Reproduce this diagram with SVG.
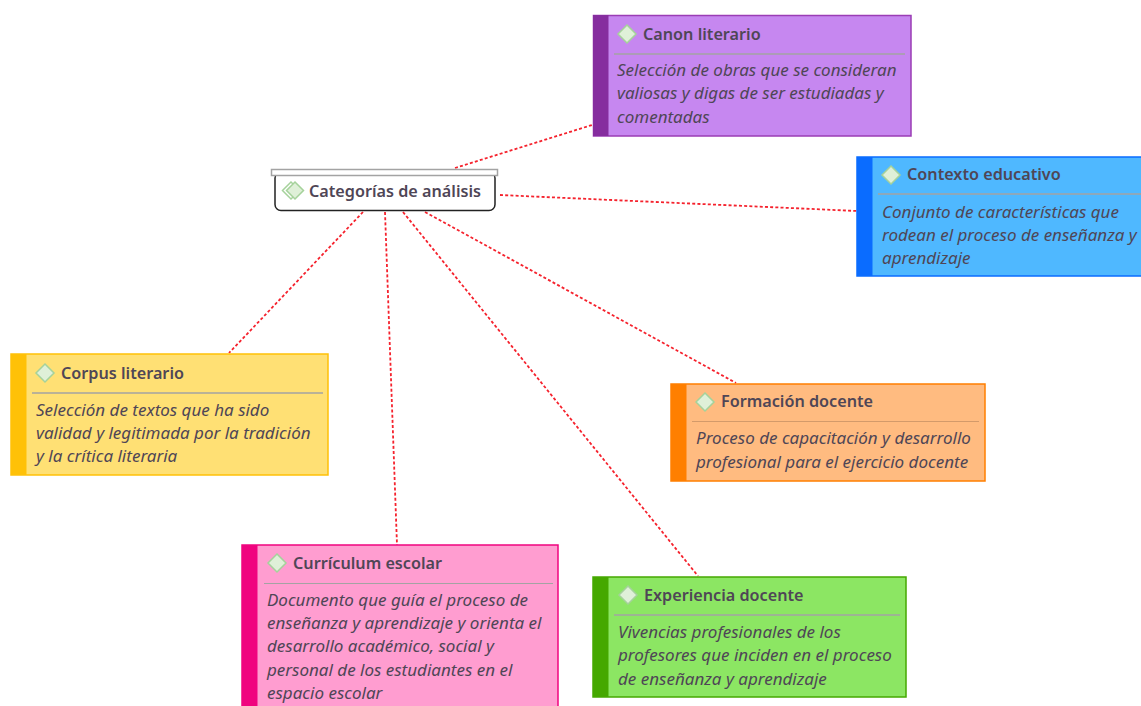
<svg xmlns="http://www.w3.org/2000/svg" width="1141" height="706" viewBox="0 0 1141 706">
<style>
text{font-family:"Noto Sans","Open Sans","Liberation Sans",sans-serif;fill:#4f4656}
.t{font-size:16.2px;font-weight:600}
.d{font-size:17px;font-style:italic}
.dia{fill:#dff0d8;stroke:#a5d29b;stroke-width:1.5}
.sep{stroke:#a3a3a3;stroke-width:1.5}
.c path{fill:none;stroke:#f5222d;stroke-width:1.8;stroke-dasharray:3 2.2}
</style>
<rect width="1141" height="706" fill="#fff"/>
<g class="c" id="connectors">
<path d="M455 168L592 125"/>
<path d="M500 195L857 211"/>
<path d="M363 212L229 353"/>
<path d="M385 212L397 545"/>
<path d="M403 212L698 576"/>
<path d="M425 212L736 383"/>
</g>
<g id="central">
<rect x="275" y="172" width="220" height="38.500" rx="6" fill="#fff" stroke="#222" stroke-width="1.500"/>
<rect x="271.500" y="169.500" width="226" height="6" fill="#fff" stroke="#a3a3a3" stroke-width="1.500"/>
<path d="M291 182l8.500 8.500-8.500 8.500-8.500-8.500z" fill="#fff" stroke="#a5d29b" stroke-width="1.500"/>
<path class="dia" d="M295 182l8.500 8.500-8.500 8.500-8.500-8.500z"/>
<text class="t" x="309" y="196.500">Categorías de análisis</text>
</g>
<g id="canon">
<rect x="593.500" y="15.500" width="317.500" height="120.500" fill="#c687f0" stroke="#9a3db5" stroke-width="1.500"/>
<rect x="593" y="15" width="15.500" height="121" fill="#862d9f"/>
<path class="dia" d="M627 25l9 9-9 9-9-9z"/>
<text class="t" x="643" y="40">Canon literario</text>
<path class="sep" d="M614 54H905"/>
<text class="d"><tspan x="617" y="76">Selección de obras que se consideran</tspan><tspan x="617" y="99">valiosas y digas de ser estudiadas y</tspan><tspan x="617" y="123">comentadas</tspan></text>
</g>
<g id="contexto">
<rect x="857" y="157" width="290" height="119" fill="#4fb8ff" stroke="#0a6cff" stroke-width="1.500"/>
<rect x="857" y="157" width="15.500" height="119" fill="#0a6cff"/>
<path class="dia" d="M891 166l9 9-9 9-9-9z"/>
<text class="t" x="907" y="180">Contexto educativo</text>
<path class="sep" d="M878 194H1141"/>
<text class="d"><tspan x="882" y="218">Conjunto de características que</tspan><tspan x="882" y="241">rodean el proceso de enseñanza y</tspan><tspan x="882" y="264">aprendizaje</tspan></text>
</g>
<g id="corpus">
<rect x="11" y="354" width="317" height="121" fill="#ffe074" stroke="#ffc107" stroke-width="1.500"/>
<rect x="11" y="354" width="15.500" height="121" fill="#ffc107"/>
<path class="dia" d="M45 364l9 9-9 9-9-9z"/>
<text class="t" x="61" y="379">Corpus literario</text>
<path class="sep" d="M32 393H323"/>
<text class="d"><tspan x="36" y="416">Selección de textos que ha sido</tspan><tspan x="36" y="439">validad y legitimada por la tradición</tspan><tspan x="36" y="462">y la crítica literaria</tspan></text>
</g>
<g id="formacion">
<rect x="671" y="384" width="314" height="97" fill="#ffbb80" stroke="#ff7f00" stroke-width="1.500"/>
<rect x="671" y="384" width="15.500" height="97" fill="#ff7f00"/>
<path class="dia" d="M705 393l9 9-9 9-9-9z"/>
<text class="t" x="721" y="407">Formación docente</text>
<path class="sep" d="M692 421.500H979" style="stroke:#d39a6a;stroke-width:1"/>
<text class="d"><tspan x="696" y="444">Proceso de capacitación y desarrollo</tspan><tspan x="696" y="468">profesional para el ejercicio docente</tspan></text>
</g>
<g id="curriculum">
<rect x="242" y="545" width="316" height="170" fill="#ff9dd0" stroke="#f0047f" stroke-width="1.500"/>
<rect x="242" y="545" width="15.500" height="170" fill="#f0047f"/>
<path class="dia" d="M277 554l9 9-9 9-9-9z"/>
<text class="t" x="293" y="569">Currículum escolar</text>
<path class="sep" d="M264 583.500H553" style="stroke-width:1"/>
<text class="d"><tspan x="267" y="606">Documento que guía el proceso de</tspan><tspan x="267" y="629">enseñanza y aprendizaje y orienta el</tspan><tspan x="267" y="652">desarrollo académico, social y</tspan><tspan x="267" y="676">personal de los estudiantes en el</tspan><tspan x="267" y="699">espacio escolar</tspan></text>
</g>
<g id="experiencia">
<rect x="593" y="577" width="313" height="120" fill="#8ce663" stroke="#45a800" stroke-width="1.500"/>
<rect x="593" y="577" width="15.500" height="120" fill="#45a800"/>
<path class="dia" d="M628 586l9 9-9 9-9-9z"/>
<text class="t" x="644" y="601">Experiencia docente</text>
<path class="sep" d="M614 615H900"/>
<text class="d"><tspan x="618" y="638">Vivencias profesionales de los</tspan><tspan x="618" y="661">profesores que inciden en el proceso</tspan><tspan x="618" y="685">de enseñanza y aprendizaje</tspan></text>
</g>
</svg>
